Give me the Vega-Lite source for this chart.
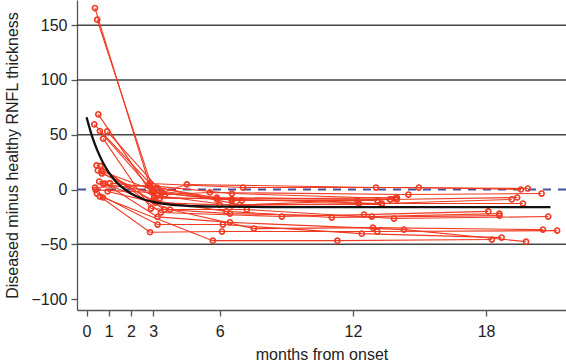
{
  "$schema": "https://vega.github.io/schema/vega-lite/v6.json",
  "width": 489,
  "height": 310,
  "autosize": {"type": "none"},
  "padding": {"left": 77, "top": 0, "right": 0, "bottom": 51},
  "background": "white",
  "config": {
    "view": {"stroke": null},
    "font": "Liberation Sans",
    "axis": {
      "labelFont": "Liberation Sans",
      "titleFont": "Liberation Sans",
      "labelFontSize": 16,
      "titleFontSize": 16,
      "titleFontWeight": "normal",
      "labelColor": "#222",
      "titleColor": "#222",
      "domainColor": "#555",
      "tickColor": "#555",
      "domainWidth": 1.3,
      "tickWidth": 1.3,
      "tickSize": 6,
      "grid": false
    }
  },
  "datasets": {
    "patients": [
      {"id": "P1", "month": 0.38, "diff": 165.6},
      {"id": "P1", "month": 2.85, "diff": 3.5},
      {"id": "P1", "month": 6.55, "diff": -3.7},
      {"id": "P1", "month": 13.9, "diff": -8.2},
      {"id": "P2", "month": 0.48, "diff": 155},
      {"id": "P2", "month": 3.0, "diff": -1},
      {"id": "P2", "month": 5.87, "diff": -7.3},
      {"id": "P2", "month": 13.7, "diff": -9.1},
      {"id": "P2", "month": 19.4, "diff": -7.3},
      {"id": "P3", "month": 0.53, "diff": 68.6},
      {"id": "P3", "month": 3.05, "diff": -7},
      {"id": "P3", "month": 6.55, "diff": -9.1},
      {"id": "P3", "month": 13.3, "diff": -12.8},
      {"id": "P3", "month": 19.16, "diff": -9.1},
      {"id": "P4", "month": 0.35, "diff": 59.5},
      {"id": "P4", "month": 2.86, "diff": 5.5},
      {"id": "P4", "month": 7.05, "diff": 1.8},
      {"id": "P4", "month": 14.97, "diff": 1.8},
      {"id": "P4", "month": 19.57, "diff": 0},
      {"id": "P5", "month": 0.6, "diff": 53.3},
      {"id": "P5", "month": 3.17, "diff": -5.5},
      {"id": "P5", "month": 6.55, "diff": -14.6},
      {"id": "P5", "month": 12.27, "diff": -12.8},
      {"id": "P5", "month": 19.66, "diff": -12.8},
      {"id": "P6", "month": 0.93, "diff": 53},
      {"id": "P6", "month": 3.4, "diff": -2.7},
      {"id": "P6", "month": 4.52, "diff": 4.6},
      {"id": "P6", "month": 13.04, "diff": 1.8},
      {"id": "P6", "month": 19.88, "diff": 0.9},
      {"id": "P7", "month": 0.75, "diff": 46.4},
      {"id": "P7", "month": 2.9, "diff": -17.4},
      {"id": "P7", "month": 6.46, "diff": -22},
      {"id": "P7", "month": 12.85, "diff": -24.7},
      {"id": "P7", "month": 18.6, "diff": -22},
      {"id": "P8", "month": 0.45, "diff": 22},
      {"id": "P8", "month": 3.5, "diff": -18.3},
      {"id": "P8", "month": 7.22, "diff": -18.3},
      {"id": "P8", "month": 13.85, "diff": -26.5},
      {"id": "P8", "month": 20.8, "diff": -24.7},
      {"id": "P9", "month": 0.63, "diff": 21.3},
      {"id": "P9", "month": 3.35, "diff": -21},
      {"id": "P9", "month": 8.8, "diff": -24.7},
      {"id": "P9", "month": 12.5, "diff": -22.9},
      {"id": "P9", "month": 18.1, "diff": -20},
      {"id": "P10", "month": 0.68, "diff": 16.7},
      {"id": "P10", "month": 3.53, "diff": -4.6},
      {"id": "P10", "month": 5.56, "diff": -2.7},
      {"id": "P10", "month": 14.5, "diff": -4.6},
      {"id": "P10", "month": 20.5, "diff": -3.7},
      {"id": "P11", "month": 0.74, "diff": -7.3},
      {"id": "P11", "month": 5.69, "diff": -46.7},
      {"id": "P11", "month": 11.3, "diff": -46.7},
      {"id": "P11", "month": 18.26, "diff": -45.7},
      {"id": "P12", "month": 0.6, "diff": -6.4},
      {"id": "P12", "month": 2.86, "diff": -39},
      {"id": "P12", "month": 6.1, "diff": -38.4},
      {"id": "P12", "month": 13.1, "diff": -38.4},
      {"id": "P12", "month": 21.2, "diff": -37.5},
      {"id": "P13", "month": 0.47, "diff": -3.7},
      {"id": "P13", "month": 3.2, "diff": -32},
      {"id": "P13", "month": 6.14, "diff": -32},
      {"id": "P13", "month": 12.4, "diff": -40.3},
      {"id": "P13", "month": 18.7, "diff": -43.9},
      {"id": "P14", "month": 0.57, "diff": 7.3},
      {"id": "P14", "month": 3.76, "diff": -18.3},
      {"id": "P14", "month": 7.54, "diff": -35.7},
      {"id": "P14", "month": 12.9, "diff": -34.8},
      {"id": "P14", "month": 20.56, "diff": -36.6},
      {"id": "P15", "month": 0.75, "diff": 5.2},
      {"id": "P15", "month": 3.0, "diff": -2},
      {"id": "P15", "month": 5.87, "diff": -9},
      {"id": "P15", "month": 13.98, "diff": -7.3},
      {"id": "P16", "month": 1.05, "diff": 5.8},
      {"id": "P16", "month": 3.17, "diff": 1.8},
      {"id": "P16", "month": 6.55, "diff": -10},
      {"id": "P16", "month": 12.2, "diff": -10},
      {"id": "P17", "month": 0.95, "diff": -1.8},
      {"id": "P17", "month": 3.1, "diff": -12},
      {"id": "P17", "month": 6.0, "diff": -14},
      {"id": "P17", "month": 13.3, "diff": -13.7},
      {"id": "P18", "month": 0.41, "diff": -0.3},
      {"id": "P18", "month": 2.95, "diff": -2.7},
      {"id": "P18", "month": 7.0, "diff": -10},
      {"id": "P18", "month": 13.1, "diff": -10},
      {"id": "P19", "month": 0.83, "diff": 5.5},
      {"id": "P19", "month": 3.2, "diff": -25},
      {"id": "P19", "month": 6.46, "diff": -30},
      {"id": "P19", "month": 14.3, "diff": -36.6},
      {"id": "P19", "month": 19.8, "diff": -47.6},
      {"id": "P20", "month": 0.51, "diff": 17.4},
      {"id": "P20", "month": 3.0, "diff": -10},
      {"id": "P20", "month": 6.3, "diff": -20},
      {"id": "P20", "month": 11.05, "diff": -25.6},
      {"id": "P20", "month": 18.6, "diff": -23.8},
      {"id": "P21", "month": 0.69, "diff": 14.6},
      {"id": "P21", "month": 3.3, "diff": -8},
      {"id": "P21", "month": 13.98, "diff": -9.1},
      {"id": "P22", "month": 0.38, "diff": 1.8},
      {"id": "P22", "month": 2.77, "diff": 3.7},
      {"id": "P22", "month": 6.9, "diff": -14},
      {"id": "P22", "month": 13.67, "diff": -9.1}
    ],
    "fit": [
      {"month": 0.0, "diff": 66},
      {"month": 0.25, "diff": 48.6},
      {"month": 0.5, "diff": 35},
      {"month": 0.75, "diff": 24.2},
      {"month": 1.0, "diff": 15.7},
      {"month": 1.25, "diff": 9},
      {"month": 1.5, "diff": 3.7},
      {"month": 2.0, "diff": -3.7},
      {"month": 2.5, "diff": -8.4},
      {"month": 3.0, "diff": -11.2},
      {"month": 3.5, "diff": -13.1},
      {"month": 4.0, "diff": -14.2},
      {"month": 5.0, "diff": -15.3},
      {"month": 6.0, "diff": -15.7},
      {"month": 8.0, "diff": -16},
      {"month": 12.0, "diff": -16},
      {"month": 20.9, "diff": -16}
    ],
    "grid": [{"y": -50}, {"y": 50}, {"y": 100}, {"y": 150}]
  },
  "layer": [
    {
      "data": {"name": "grid"},
      "mark": {"type": "rule", "color": "#444", "strokeWidth": 1.4},
      "encoding": {
        "y": {"field": "y", "type": "quantitative", "scale": {"domain": [-110, 173], "nice": false, "zero": false}}
      }
    },
    {
      "data": {"values": [{"y": 0}]},
      "mark": {"type": "rule", "color": "#4650a0", "strokeWidth": 2, "strokeDash": [8, 7]},
      "encoding": {
        "y": {"field": "y", "type": "quantitative"}
      }
    },
    {
      "data": {"name": "patients"},
      "mark": {"type": "line", "color": "#f03a22", "strokeWidth": 1.1},
      "encoding": {
        "x": {"field": "month", "type": "quantitative"},
        "y": {"field": "diff", "type": "quantitative"},
        "detail": {"field": "id"},
        "order": {"field": "month"}
      }
    },
    {
      "data": {"name": "patients"},
      "mark": {"type": "point", "filled": false, "color": "#f03a22", "strokeWidth": 1.6, "size": 26, "opacity": 1},
      "encoding": {
        "x": {"field": "month", "type": "quantitative"},
        "y": {"field": "diff", "type": "quantitative"}
      }
    },
    {
      "data": {"name": "fit"},
      "mark": {"type": "line", "color": "#111", "strokeWidth": 2.3, "interpolate": "monotone"},
      "encoding": {
        "x": {
          "field": "month", "type": "quantitative",
          "scale": {"domain": [-0.43, 21.6], "nice": false, "zero": false},
          "axis": {"values": [0, 1, 2, 3, 6, 12, 18], "title": "months from onset", "labelPadding": 7, "titlePadding": 7, "labelFlush": false}
        },
        "y": {
          "field": "diff", "type": "quantitative",
          "axis": {"values": [-100, -50, 0, 50, 100, 150], "title": "Diseased minus healthy RNFL thickness", "labelPadding": 4, "titlePadding": 10}
        }
      }
    }
  ]
}
